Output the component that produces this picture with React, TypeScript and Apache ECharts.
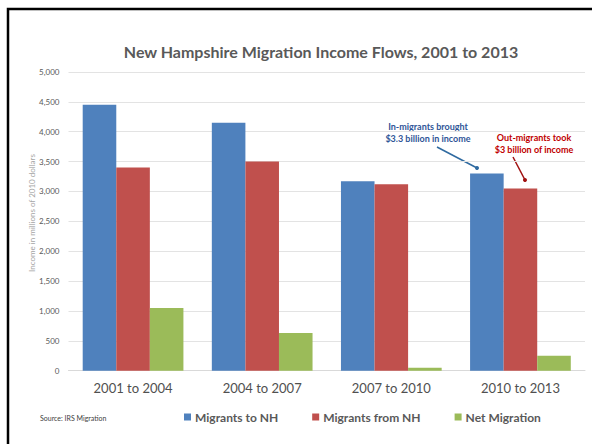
import React, { useEffect, useRef } from "react";
import * as echarts from "echarts";

const categories = ["2001 to 2004", "2004 to 2007", "2007 to 2010", "2010 to 2013"];
const migrantsTo = [4450, 4150, 3170, 3300];
const migrantsFrom = [3400, 3500, 3120, 3050];
const netMigration = [1050, 630, 50, 250];
const seriesNames = ["Migrants to NH", "Migrants from NH", "Net Migration"];
const titleText = "New Hampshire Migration Income Flows, 2001 to 2013";
const yAxisTitle = "Income in millions of 2010 dollars";
const sourceText = "Source: IRS Migration";
const inNote = ["In-migrants brought", "$3.3 billion in income"];
const outNote = ["Out-migrants took", "$3 billion of income"];

const FONT = "Lato, 'Open Sans', sans-serif";

export default function App() {
  const ref = useRef<HTMLDivElement>(null);
  useEffect(() => {
    if (!ref.current) return;
    const chart = echarts.init(ref.current, null, { renderer: "svg" });
    const colors = ["#4f81bd", "#c0504d", "#9bbb59"];
    const data = [migrantsTo, migrantsFrom, netMigration];
    chart.setOption({
      animation: false,
      backgroundColor: "#ffffff",
      color: colors,
      textStyle: { fontFamily: FONT },
      title: {
        text: titleText,
        left: 316,
        top: 38,
        textAlign: "center",
        textStyle: { fontFamily: FONT, fontSize: 16, fontWeight: "bold", color: "#595959" },
      },
      legend: {
        data: seriesNames,
        left: 179,
        top: 406,
        itemWidth: 7,
        itemHeight: 7,
        itemGap: 34,
        icon: "rect",
        textStyle: { fontFamily: FONT, fontSize: 12, fontWeight: "bold", color: "#595959", padding: [0, 0, 0, -1] },
      },
      grid: { left: 68.5, right: 7, top: 72, bottom: 73.3, containLabel: false },
      xAxis: {
        type: "category",
        data: categories,
        axisLine: { lineStyle: { color: "#d9d9d9" } },
        axisTick: { show: false },
        axisLabel: { fontFamily: FONT, fontSize: 13, color: "#505050", margin: 11 },
      },
      yAxis: {
        type: "value",
        min: 0,
        max: 5000,
        interval: 500,
        axisLine: { show: false },
        axisTick: { show: false },
        splitLine: { lineStyle: { color: "#e3e3e3" } },
        axisLabel: {
          fontFamily: FONT,
          fontSize: 8,
          color: "#595959",
          margin: 9,
          formatter: (v: number) => v.toLocaleString("en-US"),
        },
      },
      series: seriesNames.map((name, i) => ({
        name,
        type: "bar",
        data: data[i],
        barGap: "0%",
        barCategoryGap: "22%",
      })),
      graphic: [
        {
          type: "rect",
          shape: { x: 8, y: 9, width: 600, height: 460 },
          style: { fill: "none", stroke: "#000000", lineWidth: 2.5 },
          silent: true,
        },
        {
          type: "text",
          x: 32,
          y: 213,
          rotation: Math.PI / 2,
          style: {
            text: yAxisTitle,
            fontFamily: FONT,
            fontSize: 8,
            fill: "#a6a6a6",
            textAlign: "center",
            textVerticalAlign: "middle",
          },
        },
        {
          type: "text",
          x: 40,
          y: 418,
          style: {
            text: sourceText,
            fontFamily: FONT,
            fontSize: 7,
            fill: "#404040",
            textAlign: "left",
            textVerticalAlign: "middle",
          },
        },
        {
          type: "text",
          x: 428,
          y: 132,
          style: {
            text: inNote.join("\n"),
            fontFamily: FONT,
            fontSize: 9,
            fontWeight: "bold",
            lineHeight: 12,
            fill: "#2f5597",
            textAlign: "center",
            textVerticalAlign: "middle",
          },
        },
        {
          type: "text",
          x: 534,
          y: 143,
          style: {
            text: outNote.join("\n"),
            fontFamily: FONT,
            fontSize: 9,
            fontWeight: "bold",
            lineHeight: 12,
            fill: "#c00000",
            textAlign: "center",
            textVerticalAlign: "middle",
          },
        },
        {
          type: "line",
          shape: { x1: 437, y1: 147, x2: 477, y2: 168 },
          style: { stroke: "#2f6aa0", lineWidth: 1.5 },
        },
        { type: "circle", shape: { cx: 477, cy: 168, r: 2 }, style: { fill: "#2f6aa0" } },
        {
          type: "line",
          shape: { x1: 513, y1: 157, x2: 525, y2: 180 },
          style: { stroke: "#a01010", lineWidth: 1.5 },
        },
        { type: "circle", shape: { cx: 525, cy: 180, r: 2 }, style: { fill: "#a01010" } },
      ],
    });
    return () => chart.dispose();
  }, []);
  return (
    <div
      ref={ref}
      style={{ position: "fixed", left: 0, top: 0, width: 592, height: 444 }}
    />
  );
}
